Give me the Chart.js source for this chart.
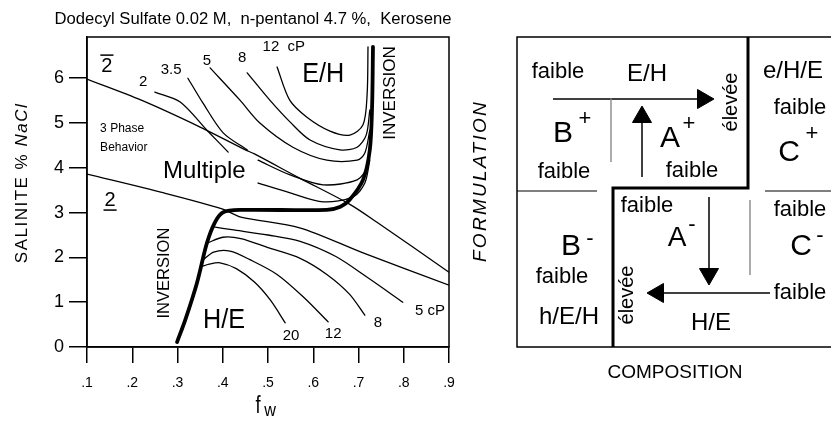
<!DOCTYPE html>
<html>
<head>
<meta charset="utf-8">
<script src="https://cdn.jsdelivr.net/npm/chart.js@4.4.0/dist/chart.umd.min.js"></script>
<style>
  body { margin: 0; background: #fff; }
  #wrap { position: relative; width: 831px; height: 427px; overflow: hidden; }
  canvas { position: absolute; top: 0; }
</style>
</head>
<body>
<div id="wrap">
  <canvas id="plot" width="490" height="427" style="left:0"></canvas>
  <canvas id="scheme" width="341" height="427" style="left:490px"></canvas>
</div>
<script>
// axis ticks
const fwTicks = [0.1, 0.2, 0.3, 0.4, 0.5, 0.6, 0.7, 0.8, 0.9];
const fwTickLabels = ['.1', '.2', '.3', '.4', '.5', '.6', '.7', '.8', '.9'];
const salTicks = [0, 1, 2, 3, 4, 5, 6];
const salTickLabels = ['0', '1', '2', '3', '4', '5', '6'];

// three phase region boundaries
const upperBoundaryFw  = [0.10, 0.22, 0.35, 0.45, 0.47, 0.57, 0.68, 0.74, 0.90];
const upperBoundarySal = [5.98, 5.51, 4.91, 4.40, 4.31, 3.77, 3.19, 2.79, 1.67];
const lowerBoundaryFw  = [0.10, 0.27, 0.40, 0.44, 0.57, 0.71, 0.90];
const lowerBoundarySal = [3.86, 3.44, 3.08, 2.90, 2.66, 2.10, 1.38];

// inversion line (thick)
const inversionFw  = [0.299, 0.317, 0.343, 0.365, 0.383, 0.401, 0.44, 0.63, 0.66, 0.68, 0.71, 0.725, 0.73, 0.732];
const inversionSal = [0.11, 0.60, 1.43, 2.32, 2.79, 3.01, 3.06, 3.06, 3.13, 3.28, 3.73, 4.40, 5.36, 6.70];

// iso-viscosity curves, E/H side (cP)
const eh2aFw = [0.250, 0.306, 0.365, 0.412];
const eh2aSal = [5.69, 5.47, 4.84, 4.35];
const eh2bFw = [0.478, 0.549, 0.622, 0.688, 0.714, 0.725];
const eh2bSal = [3.66, 3.44, 3.24, 3.35, 3.66, 4.17];
const eh35aFw = [0.323, 0.356, 0.401, 0.454];
const eh35aSal = [6.00, 5.45, 4.78, 4.40];
const eh35bFw = [0.478, 0.549, 0.622, 0.697, 0.719, 0.728];
const eh35bSal = [4.17, 3.84, 3.62, 3.73, 4.02, 4.62];
const eh5Fw  = [0.372, 0.438, 0.482, 0.555, 0.630, 0.697, 0.714, 0.725];
const eh5Sal = [6.23, 5.51, 5.00, 4.46, 4.17, 4.17, 4.33, 4.84];
const eh8Fw  = [0.454, 0.504, 0.549, 0.593, 0.659, 0.697, 0.717, 0.725];
const eh8Sal = [6.12, 5.51, 5.02, 4.62, 4.40, 4.46, 4.73, 5.29];
const eh12Fw  = [0.520, 0.548, 0.586, 0.637, 0.681, 0.710, 0.719, 0.721];
const eh12Sal = [6.25, 5.51, 5.13, 4.82, 4.73, 4.96, 5.63, 6.70];

// iso-viscosity curves, H/E side (cP)
const he5Fw  = [0.380, 0.42, 0.50, 0.571, 0.65, 0.72, 0.798];
const he5Sal = [2.68, 2.62, 2.50, 2.36, 2.02, 1.55, 1.00];
const he8Fw  = [0.366, 0.40, 0.44, 0.50, 0.571, 0.63, 0.68, 0.714];
const he8Sal = [2.32, 2.45, 2.42, 2.22, 1.98, 1.62, 1.18, 0.71];
const he12Fw  = [0.357, 0.38, 0.416, 0.46, 0.52, 0.58, 0.633];
const he12Sal = [1.95, 2.12, 2.14, 1.95, 1.62, 1.10, 0.56];
const he20Fw  = [0.352, 0.37, 0.394, 0.43, 0.47, 0.505, 0.538];
const he20Sal = [1.79, 1.85, 1.88, 1.75, 1.45, 1.05, 0.54];

const FONT = '"Liberation Sans", Arial, sans-serif';

function pts(xs, ys) {
  return xs.map((x, i) => ({ x: x, y: ys[i] }));
}

function say(ctx, text, x, y, o) {
  o = o || {};
  ctx.save();
  ctx.translate(x, y);
  if (o.rot) ctx.rotate(o.rot * Math.PI / 180);
  ctx.scale(o.sx || 1, o.sy || 1);
  ctx.font = (o.style || '') + ' ' + (o.size || 14) + 'px ' + FONT;
  if (o.spacing) ctx.letterSpacing = o.spacing + 'px';
  ctx.fillStyle = o.color || '#000';
  ctx.textAlign = o.align || 'center';
  ctx.textBaseline = 'middle';
  ctx.fillText(text, 0, 0);
  const w = ctx.measureText(text).width;
  if (o.over || o.under) {
    ctx.lineWidth = 1.5;
    ctx.strokeStyle = '#000';
    const yy = o.over ? -o.size * 0.55 : o.size * 0.5;
    ctx.beginPath();
    ctx.moveTo(-w / 2 - 1, yy);
    ctx.lineTo(w / 2 + 1, yy);
    ctx.stroke();
  }
  ctx.restore();
}

// ---------- left: fw / salinity map ----------
const plotCurves = [
  [upperBoundaryFw, upperBoundarySal, 1.3],
  [lowerBoundaryFw, lowerBoundarySal, 1.3],
  [eh2aFw, eh2aSal, 1.3], [eh2bFw, eh2bSal, 1.3],
  [eh35aFw, eh35aSal, 1.3], [eh35bFw, eh35bSal, 1.3],
  [eh5Fw, eh5Sal, 1.3], [eh8Fw, eh8Sal, 1.3], [eh12Fw, eh12Sal, 1.3],
  [he5Fw, he5Sal, 1.3], [he8Fw, he8Sal, 1.3], [he12Fw, he12Sal, 1.3], [he20Fw, he20Sal, 1.3],
  [inversionFw, inversionSal, 3.8]
];

const plotNotes = [
  { text: 'E/H', fw: 0.622, sal: 6.09, size: 28, sx: 0.9 },
  { text: 'H/E', fw: 0.403, sal: 0.60, size: 28, sx: 0.9 },
  { text: 'Multiple', fw: 0.268, sal: 3.93, size: 24, align: 'left' },
  { text: '3 Phase', fw: 0.129, sal: 4.88, size: 12, align: 'left' },
  { text: 'Behavior', fw: 0.129, sal: 4.46, size: 12, align: 'left' },
  { text: 'INVERSION', fw: 0.770, sal: 5.67, size: 17, rot: -90 },
  { text: 'INVERSION', fw: 0.272, sal: 1.65, size: 16.5, rot: -90 },
  { text: '2', fw: 0.224, sal: 5.91, size: 15 },
  { text: '3.5', fw: 0.286, sal: 6.18, size: 15 },
  { text: '5', fw: 0.365, sal: 6.38, size: 15 },
  { text: '8', fw: 0.443, sal: 6.45, size: 15 },
  { text: '12  cP', fw: 0.535, sal: 6.69, size: 15 },
  { text: '20', fw: 0.551, sal: 0.25, size: 15 },
  { text: '12', fw: 0.644, sal: 0.29, size: 15 },
  { text: '8', fw: 0.743, sal: 0.54, size: 15 },
  { text: '5 cP', fw: 0.858, sal: 0.80, size: 15 },
  { text: '2', fw: 0.144, sal: 6.27, size: 20, over: true },
  { text: '2', fw: 0.151, sal: 3.28, size: 20, under: true }
];

const plotDecor = {
  id: 'plotDecor',
  afterDraw(chart) {
    const ctx = chart.ctx, a = chart.chartArea;
    const sx = chart.scales.x, sy = chart.scales.y;
    ctx.save();
    ctx.strokeStyle = '#000';
    ctx.lineWidth = 1.5;
    ctx.strokeRect(a.left, a.top, a.right - a.left, a.bottom - a.top);
    ctx.restore();
    plotNotes.forEach(n => say(ctx, n.text, sx.getPixelForValue(n.fw), sy.getPixelForValue(n.sal), n));
    say(ctx, 'Dodecyl Sulfate 0.02 M,  n-pentanol 4.7 %,  Kerosene', 253, 20, { size: 16, sx: 1.04 });
    // x title: f with subscript w
    say(ctx, 'f', 258, 407, { size: 23, sx: 0.8 });
    say(ctx, 'w', 270, 411, { size: 18, sx: 0.9 });
    // y title
    ctx.save();
    ctx.translate(22, 183);
    ctx.rotate(-Math.PI / 2);
    ctx.letterSpacing = '1.5px';
    ctx.font = '17px ' + FONT;
    const p1 = 'SALINITE % ';
    const w1 = ctx.measureText(p1).width;
    ctx.font = 'italic 17px ' + FONT;
    const w2 = ctx.measureText('NaCl').width;
    ctx.textBaseline = 'middle';
    ctx.textAlign = 'left';
    ctx.fillStyle = '#000';
    ctx.font = '17px ' + FONT;
    ctx.fillText(p1, -(w1 + w2) / 2, 0);
    ctx.font = 'italic 17px ' + FONT;
    ctx.fillText('NaCl', -(w1 + w2) / 2 + w1, 0);
    ctx.restore();
    say(ctx, 'FORMULATION', 481, 181, { size: 19, rot: -90, style: 'italic', spacing: 2.3 });
  }
};

new Chart(document.getElementById('plot'), {
  type: 'scatter',
  data: {
    datasets: plotCurves.map(c => ({
      data: pts(c[0], c[1]),
      showLine: true,
      borderColor: '#000',
      borderWidth: c[2],
      pointRadius: 0,
      tension: 0.3,
      borderJoinStyle: 'round',
      borderCapStyle: 'round'
    }))
  },
  options: {
    responsive: false,
    animation: false,
    events: [],
    layout: { autoPadding: false, padding: { left: 0, top: 37, right: 41, bottom: 0 } },
    plugins: { legend: { display: false }, tooltip: { enabled: false } },
    scales: {
      x: {
        type: 'linear', min: 0.1, max: 0.9,
        afterFit(s) { s.height = 80; },
        afterBuildTicks(s) { s.ticks = fwTicks.map(v => ({ value: v })); },
        ticks: { callback: (v, i) => fwTickLabels[i], color: '#000', font: { size: 14, family: FONT }, padding: 12, maxRotation: 0 },
        grid: { drawOnChartArea: false, tickLength: 16, color: '#000', lineWidth: 1.5 },
        border: { color: '#000', width: 1.5 }
      },
      y: {
        type: 'linear', min: 0, max: 6.92,
        afterFit(s) { s.width = 87; },
        afterBuildTicks(s) { s.ticks = salTicks.map(v => ({ value: v })); },
        ticks: { callback: (v, i) => salTickLabels[i], color: '#000', font: { size: 18, family: FONT }, padding: 5 },
        grid: { drawOnChartArea: false, tickLength: 18, color: '#000', lineWidth: 1.5 },
        border: { color: '#000', width: 1.5 }
      }
    }
  },
  plugins: [plotDecor]
});

// ---------- right: formulation / composition scheme ----------
const frameX = [314, 0, 0, 314];
const frameY = [310, 310, 0, 0];
const inversionPathX = [231, 231, 96, 96];
const inversionPathY = [310, 159, 159, 0];
const thinLeftX = [0, 80], thinLeftY = [156, 156];
const thinRightX = [248, 314], thinRightY = [156, 156];
const greyUpperX = [94, 94], greyUpperY = [249, 185];
const greyLowerX = [233, 233], greyLowerY = [147, 72];
const arrowRightX = [36, 186], arrowRightY = [248, 248];
const arrowUpX = [125, 125], arrowUpY = [170, 230];
const arrowDownX = [192, 192], arrowDownY = [150, 73];
const arrowLeftX = [253, 141], arrowLeftY = [54, 54];

const schemeLines = [
  [frameX, frameY, 1.5, '#000'],
  [inversionPathX, inversionPathY, 3, '#000'],
  [thinLeftX, thinLeftY, 1.2, '#000'],
  [thinRightX, thinRightY, 1.2, '#000'],
  [greyUpperX, greyUpperY, 1.3, '#808080'],
  [greyLowerX, greyLowerY, 1.3, '#808080']
];
const schemeArrows = [
  [arrowRightX, arrowRightY, 90],
  [arrowUpX, arrowUpY, 0],
  [arrowDownX, arrowDownY, 180],
  [arrowLeftX, arrowLeftY, 270]
];

const schemeNotes = [
  { text: 'faible', x: 41, y: 275, size: 22 },
  { text: 'E/H', x: 130, y: 273, size: 24 },
  { text: 'élevée', x: 214, y: 245, size: 20, rot: -90 },
  { text: 'B', x: 46, y: 213, size: 30 },
  { text: '+', x: 68, y: 228, size: 22 },
  { text: 'faible', x: 47, y: 175, size: 22 },
  { text: 'A', x: 153, y: 208, size: 30 },
  { text: '+', x: 172, y: 223, size: 22 },
  { text: 'faible', x: 175, y: 176, size: 22 },
  { text: 'e/H/E', x: 276, y: 276, size: 24 },
  { text: 'faible', x: 283, y: 239, size: 22 },
  { text: 'C', x: 272, y: 194, size: 30 },
  { text: '+', x: 295, y: 213, size: 22 },
  { text: 'faible', x: 130, y: 141, size: 22 },
  { text: 'A', x: 160, y: 109, size: 28 },
  { text: '-', x: 175, y: 122, size: 22 },
  { text: 'faible', x: 283, y: 137, size: 22 },
  { text: 'C', x: 284, y: 100, size: 30 },
  { text: '-', x: 303, y: 111, size: 22 },
  { text: 'B', x: 54, y: 100, size: 30 },
  { text: '-', x: 73, y: 108, size: 22 },
  { text: 'faible', x: 45, y: 70, size: 22 },
  { text: 'h/E/H', x: 52, y: 30, size: 24 },
  { text: 'élevée', x: 110, y: 52, size: 20, rot: -90 },
  { text: 'faible', x: 283, y: 54, size: 22 },
  { text: 'H/E', x: 194, y: 24, size: 24 },
  { text: 'COMPOSITION', x: 158, y: -26, size: 19 }
];

const schemeDecor = {
  id: 'schemeDecor',
  afterDraw(chart) {
    const sx = chart.scales.x, sy = chart.scales.y;
    schemeNotes.forEach(n => say(chart.ctx, n.text, sx.getPixelForValue(n.x), sy.getPixelForValue(n.y), n));
  }
};

new Chart(document.getElementById('scheme'), {
  type: 'scatter',
  data: {
    datasets: schemeLines.map(l => ({
      data: pts(l[0], l[1]),
      showLine: true,
      borderColor: l[3],
      borderWidth: l[2],
      pointRadius: 0,
      clip: false
    })).concat(schemeArrows.map(a => ({
      data: pts(a[0], a[1]),
      showLine: true,
      borderColor: '#000',
      borderWidth: 1.5,
      pointRadius: [0, 11],
      pointStyle: 'triangle',
      pointRotation: a[2],
      pointBackgroundColor: '#000',
      pointBorderColor: '#000',
      pointBorderWidth: 1,
      clip: false
    })))
  },
  options: {
    responsive: false,
    animation: false,
    events: [],
    layout: { autoPadding: false, padding: { left: 27, top: 37, right: 0, bottom: 80 } },
    plugins: { legend: { display: false }, tooltip: { enabled: false } },
    scales: {
      x: { type: 'linear', min: 0, max: 314, display: false },
      y: { type: 'linear', min: 0, max: 310, display: false }
    }
  },
  plugins: [schemeDecor]
});
</script>
</body>
</html>
